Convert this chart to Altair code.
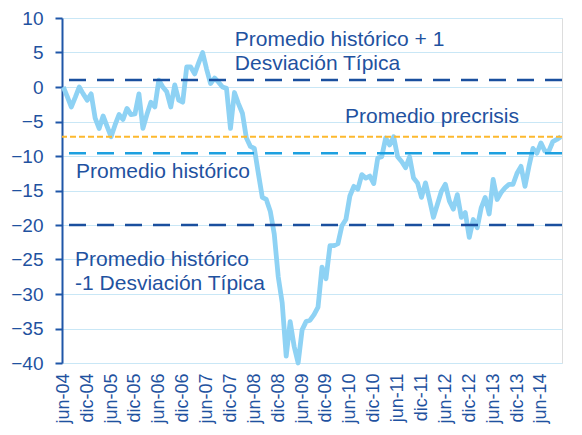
import json
import altair as alt
import pandas as pd

# Monthly index, jun-04 onwards (month number 0 = jun-04)
serie_valores = [
    0.0, -1.4, -2.9, -1.5, 0.0, -1.0, -1.9, -1.0, -4.5, -6.0,
    -4.2, -5.7, -7.2, -5.5, -4.0, -4.7, -3.1, -4.0, -3.9, -1.0,
    -6.0, -4.0, -2.2, -2.9, 1.0, 0.0, -0.7, -2.9, 0.3, -1.9,
    -2.2, 2.9, 2.9, 1.9, 3.5, 5.0, 2.6, 0.5, 1.3, 0.7,
    0.0, -0.2, -6.0, -0.8, -2.4, -3.8, -7.4, -8.6, -8.9, -12.5,
    -16.0, -16.3, -18.0, -21.3, -27.5, -31.3, -39.0, -34.0, -37.6, -40.0,
    -35.2, -34.0, -33.8, -33.0, -31.9, -26.1, -27.8, -23.0, -23.0, -22.7,
    -20.1, -19.2, -15.8, -14.4, -14.8, -12.7, -13.2, -12.9, -14.0, -10.3,
    -10.1, -7.4, -8.4, -7.2, -10.1, -10.8, -11.7, -10.1, -13.2, -13.9,
    -16.0, -13.9, -16.3, -18.9, -17.0, -15.1, -14.1, -16.5, -17.7, -15.6,
    -18.9, -18.2, -21.8, -19.2, -20.4, -17.5, -16.0, -18.4, -13.4, -16.3,
    -15.3, -14.6, -14.1, -14.1, -12.5, -11.5, -14.4, -11.5, -8.9, -9.6,
    -8.1, -9.3, -9.3, -7.9, -7.6, -7.2,
]
meses = list(range(len(serie_valores)))

etiquetas_x = [
    "jun-04", "dic-04", "jun-05", "dic-05", "jun-06", "dic-06", "jun-07",
    "dic-07", "jun-08", "dic-08", "jun-09", "dic-09", "jun-10", "dic-10",
    "jun-11", "dic-11", "jun-12", "dic-12", "jun-13", "dic-13", "jun-14",
]
posiciones_x = [0, 6, 12, 18, 24, 30, 36, 42, 48, 54, 60, 66, 72, 78, 84,
                90, 96, 102, 108, 114, 120]
valores_y = [-40, -35, -30, -25, -20, -15, -10, -5, 0, 5, 10]

ref_nombres = ["sd_sup", "precrisis", "historico", "sd_inf"]
ref_valores = [1.0, -7.2, -9.6, -20.0]

anot_textos = [
    ["Promedio histórico + 1", "Desviación Típica"],
    ["Promedio precrisis"],
    ["Promedio histórico"],
    ["Promedio histórico", "-1 Desviación Típica"],
]
anot_mes = [43.1, 70.8, 3.2, 2.95]
anot_valor = [6.0, -5.2, -13.2, -26.0]

TEXT = "#1F52A0"
FONT = "Liberation Sans"

df = pd.DataFrame({"mes": meses, "valor": serie_valores})

x_scale = alt.Scale(domain=[-0.33, 125.3], nice=False, zero=False)
y_scale = alt.Scale(domain=[-40, 10], nice=False, zero=False)

label_expr = "%s[round(datum.value / 6)]" % json.dumps(etiquetas_x)

x_axis = alt.Axis(values=posiciones_x, labelExpr=label_expr, labelAngle=270,
                  labelAlign="right", labelBaseline="middle", labelFontSize=18,
                  labelColor=TEXT, labelFont=FONT, ticks=False, domain=False,
                  grid=False, labelPadding=10, labelFlush=False,
                  labelOverlap=False, labelBound=False, title=None)
y_axis = alt.Axis(values=valores_y, grid=True, gridColor="#C9E7F6",
                  gridWidth=1, domainColor="#1F56A8", domainWidth=2,
                  tickColor="#1F56A8", tickWidth=2, tickSize=7, labelFontSize=19,
                  labelColor=TEXT, labelFont=FONT, labelPadding=12,
                  labelFlush=False, labelOverlap=False, title=None)


def xe():
    return alt.X("mes:Q", scale=x_scale, axis=x_axis)


def ye():
    return alt.Y("valor:Q", scale=y_scale, axis=y_axis)


linea = alt.Chart(df).mark_line(color="#8ED2F4", strokeWidth=4.8,
                                strokeJoin="round", clip=False).encode(x=xe(), y=ye())

estilos = {
    "sd_sup": dict(color="#1A4F9E", strokeWidth=2.5, strokeDash=[17, 11]),
    "precrisis": dict(color="#FDB92E", strokeWidth=2, strokeDash=[6, 3]),
    "historico": dict(color="#1CA0E0", strokeWidth=2.5, strokeDash=[17, 11]),
    "sd_inf": dict(color="#1A4F9E", strokeWidth=2.5, strokeDash=[17, 11]),
}
ref_df = pd.DataFrame({"nombre": ref_nombres, "valor": ref_valores})
reglas = []
for nombre in ref_nombres:
    reglas.append(
        alt.Chart(ref_df).transform_filter(alt.datum.nombre == nombre)
        .mark_rule(**estilos[nombre])
        .encode(y=ye())
    )

anot_df = pd.DataFrame({"mes": anot_mes, "valor": anot_valor, "texto": anot_textos})
textos = alt.Chart(anot_df).mark_text(
    align="left", baseline="alphabetic", fontSize=21, font=FONT, color=TEXT,
    lineHeight=24,
).encode(
    x=xe(),
    y=ye(),
    text="texto",
)

chart = alt.layer(linea, *reglas, textos).properties(
    width=500, height=345,
    autosize=alt.AutoSizeParams(type="none"),
    padding={"left": 54, "top": 10, "right": 12, "bottom": 64},
).configure_view(stroke=None).configure(background="white")

chart.save("out.html", embed_options={"renderer": "svg", "actions": False})
